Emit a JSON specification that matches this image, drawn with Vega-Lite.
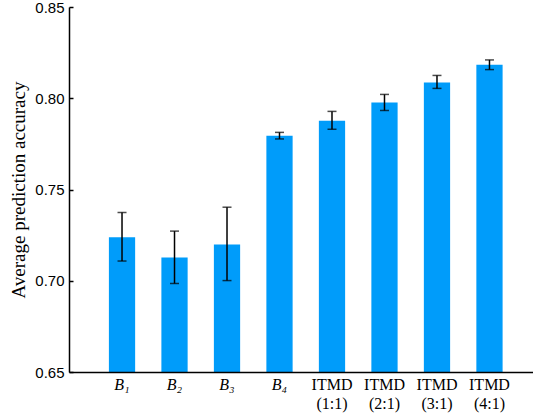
{
  "$schema": "https://vega.github.io/schema/vega-lite/v6.json",
  "autosize": "none",
  "padding": {"left": 69, "top": 7, "right": 0, "bottom": 45},
  "width": 464,
  "height": 365,
  "background": "white",
  "config": {"view": {"stroke": null}},
  "data": {
    "values": [
      {"group": "B₁", "acc": 0.7239, "lo": 0.7108, "hi": 0.7374},
      {"group": "B₂", "acc": 0.7127, "lo": 0.6985, "hi": 0.7272},
      {"group": "B₃", "acc": 0.7199, "lo": 0.7001, "hi": 0.7403},
      {"group": "B₄", "acc": 0.7795, "lo": 0.7777, "hi": 0.7813},
      {"group": "ITMD (1:1)", "acc": 0.7877, "lo": 0.7830, "hi": 0.7928},
      {"group": "ITMD (2:1)", "acc": 0.7977, "lo": 0.7933, "hi": 0.8021},
      {"group": "ITMD (3:1)", "acc": 0.8086, "lo": 0.8054, "hi": 0.8125},
      {"group": "ITMD (4:1)", "acc": 0.8183, "lo": 0.8157, "hi": 0.8210}
    ]
  },
  "encoding": {
    "x": {
      "field": "group",
      "type": "nominal",
      "sort": null,
      "scale": {"range": [0, 473.5], "paddingInner": 0.5, "paddingOuter": 0.76},
      "axis": {
        "title": null,
        "labelAngle": 0,
        "labelFont": "Liberation Serif",
        "labelFontSize": 16,
        "labelColor": "black",
        "labelBaseline": "top",
        "labelLineHeight": 19,
        "labelPadding": 4,
        "labelExpr": "split(datum.label, ' ')",
        "labelFontStyle": {"condition": {"test": "indexof(datum.value, 'B') == 0", "value": "italic"}, "value": "normal"},
        "ticks": false,
        "domainColor": "black",
        "domainWidth": 1.5,
        "zindex": 1
      }
    }
  },
  "layer": [
    {
      "mark": {"type": "bar", "color": "#009CFA", "clip": true},
      "encoding": {
        "y": {
          "field": "acc",
          "type": "quantitative",
          "title": "Average prediction accuracy",
          "scale": {"domain": [0.65, 0.85], "zero": false, "nice": false},
          "axis": {
            "titleFont": "Liberation Serif",
            "titleFontSize": 19,
            "titleFontWeight": "normal",
            "titleColor": "black",
            "titlePadding": 6,
            "values": [0.65, 0.7, 0.75, 0.8, 0.85],
            "format": ".2f",
            "labelFont": "Liberation Sans",
            "labelFontSize": 15,
            "labelColor": "black",
            "labelPadding": 9,
            "grid": false,
            "tickSize": -4,
            "tickColor": "black",
            "tickWidth": 1.5,
            "domainColor": "black",
            "domainWidth": 1.5,
            "zindex": 1
          }
        }
      }
    },
    {
      "mark": {"type": "errorbar", "ticks": {"size": 9, "thickness": 1.5, "color": "black"}, "rule": {"strokeWidth": 1.5, "color": "black"}},
      "encoding": {
        "y": {"field": "lo", "type": "quantitative", "title": "Average prediction accuracy"},
        "y2": {"field": "hi"}
      }
    }
  ]
}
